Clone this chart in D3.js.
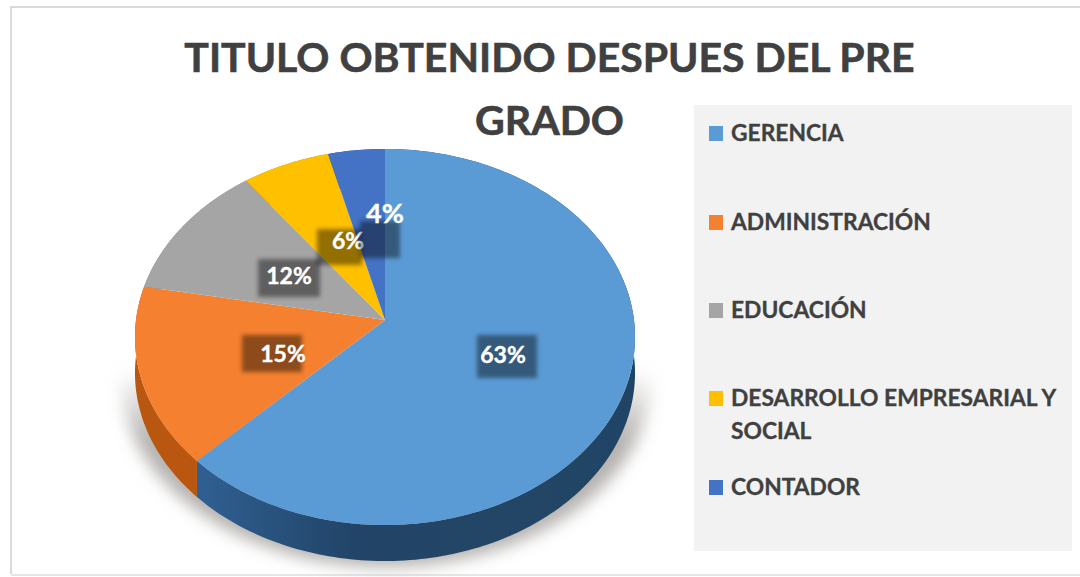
<!DOCTYPE html>
<html>
<head>
<meta charset="utf-8">
<script src="https://cdn.jsdelivr.net/npm/d3@7"></script>
<style>
html, body { margin: 0; padding: 0; background: #fff; overflow: hidden; }
svg { display: block; font-family: Lato, "Open Sans", sans-serif; font-weight: 700; }
</style>
</head>
<body>
<div id="chart"></div>
<script>
var categories = ["GERENCIA", "ADMINISTRACIÓN", "EDUCACIÓN", "DESARROLLO EMPRESARIAL Y|SOCIAL", "CONTADOR"];
var values = [62.5, 15.4, 11.9, 6.2, 4.0];
var colors = ["#5b9bd5", "#f48030", "#a5a5a5", "#ffc000", "#4472c4"];
var sideColors = ["url(#sideBlue)", "#b9560f", "#7c7c7c", "#bf9000", "#335593"];
var titleLines = ["TITULO OBTENIDO DESPUES DEL PRE", "GRADO"];

// label placement for each slice: text centre, backing box, font size
var labelPos = [
    { x: 503, y: 355, size: 23, box: [477, 335, 60, 43] },
    { x: 283, y: 354, size: 23, box: [242, 335, 60, 37] },
    { x: 289, y: 276, size: 23, box: [258, 259, 62, 38] },
    { x: 348, y: 241, size: 23, box: [317, 229, 45, 36] },
    { x: 385, y: 214, size: 27, box: [360, 221, 40, 37] }
];
var legendY = [133, 222, 310, 398, 487];

var width = 1080, height = 577;
var cx = 385, cy = 320, R = 249, H = 186.5, k = 0.0904, depth = 36;

var svg = d3.select("#chart").append("svg")
    .attr("width", width)
    .attr("height", height);

var defs = svg.append("defs");
defs.append("filter").attr("id", "blurShadow")
    .attr("x", "-20%").attr("y", "-20%").attr("width", "140%").attr("height", "140%")
    .append("feGaussianBlur").attr("stdDeviation", 8);
defs.append("filter").attr("id", "blurBox")
    .attr("x", "-20%").attr("y", "-20%").attr("width", "140%").attr("height", "140%")
    .append("feGaussianBlur").attr("stdDeviation", 2);

var grad = defs.append("linearGradient").attr("id", "sideBlue")
    .attr("gradientUnits", "userSpaceOnUse")
    .attr("x1", 200).attr("x2", 635).attr("y1", 0).attr("y2", 0);
grad.append("stop").attr("offset", "0%").attr("stop-color", "#2f5f91");
grad.append("stop").attr("offset", "35%").attr("stop-color", "#224468");
grad.append("stop").attr("offset", "75%").attr("stop-color", "#234666");
grad.append("stop").attr("offset", "100%").attr("stop-color", "#1f4465");

// shadow fades in from the middle of the pie downwards
var shadowGrad = defs.append("linearGradient").attr("id", "shadowFade")
    .attr("gradientUnits", "userSpaceOnUse")
    .attr("x1", 0).attr("x2", 0).attr("y1", 370).attr("y2", 440);
shadowGrad.append("stop").attr("offset", "0%").attr("stop-color", "#b5b3b0").attr("stop-opacity", 0);
shadowGrad.append("stop").attr("offset", "100%").attr("stop-color", "#b5b3b0").attr("stop-opacity", 1);

// frame of the picture
svg.append("path")
    .attr("d", "M11,574V7H1080")
    .attr("fill", "none")
    .attr("stroke", "#d9d9d9")
    .attr("stroke-width", 2);
svg.append("line")
    .attr("x1", 11).attr("x2", 1080).attr("y1", 575).attr("y2", 575)
    .attr("stroke", "#e6e6e6").attr("stroke-width", 2);

// perspective projection of an angle on the pie rim, clockwise from the top
function project(a, r) {
    var u = Math.sin(a) * r, v = Math.cos(a) * r;
    var s = 1 + k * v;
    return [cx + R * u / s, cy - H * v / s];
}

function rim(start, end) {
    var n = Math.max(2, Math.ceil((end - start) / 0.02));
    return d3.range(n + 1).map(function (i) {
        return project(start + (end - start) * i / n, 1);
    });
}

var line = d3.line();

var pie = d3.pie().sort(null).value(function (d) { return d; });
var slices = pie(values);

// shadow under the pie
svg.append("path")
    .attr("d", line(rim(0, 2 * Math.PI).map(function (p) {
        return [cx + (p[0] - cx) * 1.06 + 1, p[1] + 42];
    })) + "Z")
    .attr("fill", "url(#shadowFade)")
    .attr("filter", "url(#blurShadow)");

// side wall
svg.selectAll(".side")
    .data(slices)
    .enter()
    .append("path")
    .attr("class", "side")
    .attr("d", function (d) {
        var top = rim(d.startAngle, d.endAngle);
        var bottom = top.map(function (p) { return [p[0], p[1] + depth]; }).reverse();
        return line(top.concat(bottom)) + "Z";
    })
    .attr("fill", function (d, i) { return sideColors[i]; });

// top face
svg.selectAll(".slice")
    .data(slices)
    .enter()
    .append("path")
    .attr("class", "slice")
    .attr("d", function (d) {
        return line([[cx, cy]].concat(rim(d.startAngle, d.endAngle))) + "Z";
    })
    .attr("fill", function (d, i) { return colors[i]; });

// data labels
var labels = svg.selectAll(".label")
    .data(values)
    .enter()
    .append("g")
    .attr("class", "label");

labels.append("rect")
    .attr("x", function (d, i) { return labelPos[i].box[0]; })
    .attr("y", function (d, i) { return labelPos[i].box[1]; })
    .attr("width", function (d, i) { return labelPos[i].box[2]; })
    .attr("height", function (d, i) { return labelPos[i].box[3]; })
    .attr("fill", "#000")
    .attr("opacity", 0.42)
    .attr("filter", "url(#blurBox)");

labels.append("text")
    .attr("x", function (d, i) { return labelPos[i].x; })
    .attr("y", function (d, i) { return labelPos[i].y; })
    .attr("dy", ".35em")
    .attr("text-anchor", "middle")
    .attr("font-size", function (d, i) { return labelPos[i].size; })
    .attr("fill", "#fff")
    .attr("stroke", "#fff")
    .attr("stroke-width", 0.4)
    .text(function (d) { return Math.round(d) + "%"; });

// title
svg.selectAll(".title")
    .data(titleLines)
    .enter()
    .append("text")
    .attr("class", "title")
    .attr("x", 549.5)
    .attr("y", function (d, i) { return 72 + i * 63; })
    .attr("text-anchor", "middle")
    .attr("font-size", 41)
    .attr("fill", "#404040")
    .attr("stroke", "#404040")
    .attr("stroke-width", 0.6)
    .text(function (d) { return d; });

// legend
svg.append("rect")
    .attr("x", 694).attr("y", 105)
    .attr("width", 378).attr("height", 446)
    .attr("fill", "#f2f2f2");

var legend = svg.selectAll(".legend")
    .data(categories)
    .enter()
    .append("g")
    .attr("class", "legend");

legend.append("rect")
    .attr("x", 709)
    .attr("y", function (d, i) { return legendY[i] - 7; })
    .attr("width", 14)
    .attr("height", 15)
    .attr("fill", function (d, i) { return colors[i]; });

legend.each(function (d, i) {
    d3.select(this).selectAll("text")
        .data(d.split("|"))
        .enter()
        .append("text")
        .attr("x", 731)
        .attr("y", function (s, j) { return legendY[i] + j * 33; })
        .attr("dy", ".35em")
        .attr("font-size", 22.8)
        .attr("fill", "#404040")
        .attr("stroke", "#404040")
        .attr("stroke-width", 0.3)
        .text(function (s) { return s; });
});
</script>
</body>
</html>
